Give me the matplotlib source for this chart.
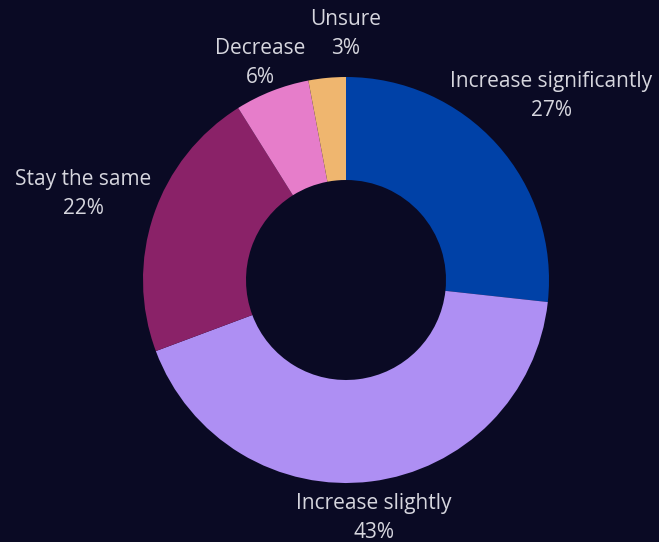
import matplotlib
matplotlib.use("Agg")
import matplotlib.pyplot as plt

# Survey responses
categories = ["Increase significantly", "Increase slightly", "Stay the same", "Decrease", "Unsure"]
values = [27, 43, 22, 6, 3]
colors = ["#0041a7", "#ae8ff3", "#8a2268", "#e67dca", "#efb66f"]

# label centres in canvas pixels (x, y from top)
label_pos = [(551, 96), (374, 518), (83, 194), (260, 63), (346, 34)]

BG = "#0a0a24"
W, H = 659, 542
fig = plt.figure(figsize=(W / 100, H / 100), dpi=100, facecolor=BG)
ax = fig.add_axes([0, 0, 1, 1])
ax.set_facecolor(BG)
ax.set_xlim(0, W)
ax.set_ylim(0, H)
ax.set_aspect("equal")
ax.axis("off")

cx, cy = 346, H - 280
outer_r = 203
inner_r = 100

ax.pie(values, colors=colors, startangle=90, counterclock=False,
       center=(cx, cy), radius=outer_r,
       wedgeprops=dict(width=outer_r - inner_r, edgecolor="none"))
ax.set_xlim(0, W)
ax.set_ylim(0, H)

for name, val, (lx, ly) in zip(categories, values, label_pos):
    ax.text(lx, H - ly, f"{name}\n{val}%", ha="center", va="center",
            color="#d6d6de", fontsize=15, family="Open Sans",
            linespacing=1.45)

fig.savefig("out.png", dpi=100, facecolor=BG)
